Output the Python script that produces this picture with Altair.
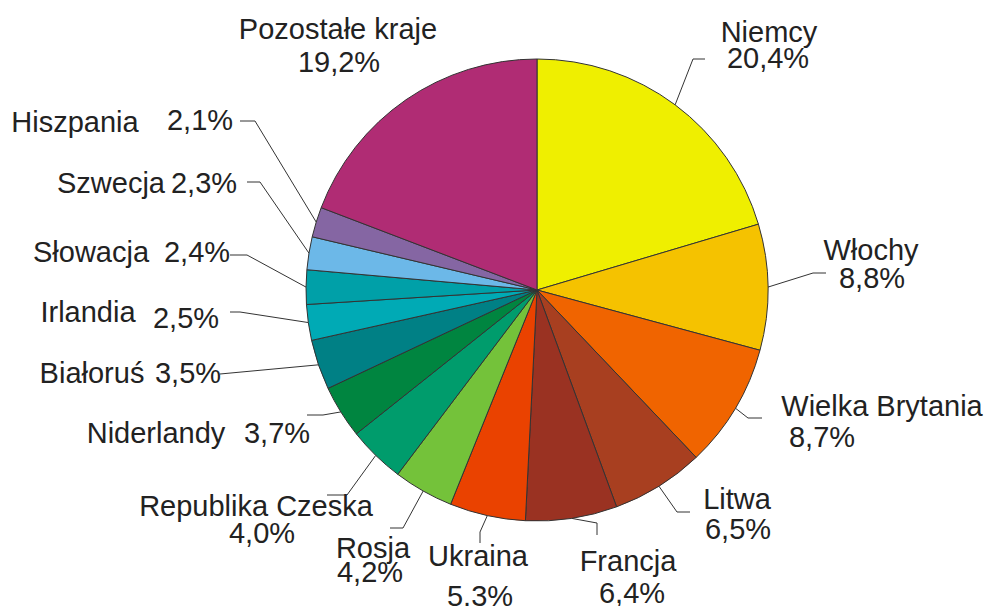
import math
import altair as alt
import pandas as pd

# ---- data ----
countries = ["Niemcy", "Włochy", "Wielka Brytania", "Litwa", "Francja", "Ukraina",
             "Rosja", "Republika Czeska", "Niderlandy", "Białoruś", "Irlandia",
             "Słowacja", "Szwecja", "Hiszpania", "Pozostałe kraje"]
values = [20.4, 8.8, 8.7, 6.5, 6.4, 5.3, 4.2, 4.0, 3.7, 3.5, 2.5, 2.4, 2.3, 2.1, 19.2]
value_labels = ["20,4%", "8,8%", "8,7%", "6,5%", "6,4%", "5.3%", "4,2%", "4,0%",
                "3,7%", "3,5%", "2,5%", "2,4%", "2,3%", "2,1%", "19,2%"]
colors = ["#EFEF00", "#F5C200", "#F06400", "#A83F20", "#9A3222", "#EA4200",
          "#74C23A", "#009C6C", "#008540", "#008085", "#00AAB5", "#00A0A8",
          "#6CB8E8", "#8566A3", "#B02C74"]

# ---- layout (pixels) ----
W, H = 992, 606
CX, CY, R = 537, 290, 231
FONT = "Liberation Sans"
FS = 29

# name position, value position, leader elbow, leader end (None = no leader)
layout = {
    "Niemcy":           ((769, 33), (768, 59), (693, 59), (705, 59)),
    "Włochy":           ((871, 251), (872, 279), (813, 273), (826, 273)),
    "Wielka Brytania":  ((882, 407), (822, 438), (748, 418), (762, 418)),
    "Litwa":            ((737, 500), (738, 530), (677, 512), (690, 512)),
    "Francja":          ((628, 562), (632, 594), (597, 523), (597, 535)),
    "Ukraina":          ((478, 557), (480, 597), (480, 532), (480, 543)),
    "Rosja":            ((373, 549), (370, 573), (403, 528), (390, 528)),
    "Republika Czeska": ((256, 507), (262, 534), (347, 495), (327, 495)),
    "Niderlandy":       ((156, 434), (277, 434), (323, 415), (307, 415)),
    "Białoruś":         ((92, 374), (188, 374), (220, 374), (220, 374)),
    "Irlandia":         ((88, 313), (186, 319), (240, 312), (230, 312)),
    "Słowacja":         ((91, 253), (197, 253), (247, 255), (230, 255)),
    "Szwecja":          ((111, 184), (204, 184), (260, 182), (247, 182)),
    "Hiszpania":        ((75, 123), (200, 121), (255, 121), (240, 121)),
    "Pozostałe kraje":  ((338, 30), (339, 63), None, None),
}

pie_df = pd.DataFrame({"idx": range(len(countries)), "country": countries, "value": values})

total = sum(values)
rows_lines, rows_text = [], []
cum = 0.0
for c, v, lab in zip(countries, values, value_labels):
    mid = (cum + v / 2) / total * 2 * math.pi
    cum += v
    name_xy, val_xy, elbow, end = layout[c]
    rows_text.append({"x": name_xy[0], "y": name_xy[1], "t": c})
    rows_text.append({"x": val_xy[0], "y": val_xy[1], "t": lab})
    if elbow is not None:
        sx = CX + R * math.sin(mid)
        sy = CY - R * math.cos(mid)
        for k, (px, py) in enumerate([(sx, sy), elbow, end]):
            rows_lines.append({"country": c, "pt": k, "x": px, "y": py})

lines_df = pd.DataFrame(rows_lines)
text_df = pd.DataFrame(rows_text)

xs = alt.Scale(domain=[0, W], range=[0, W], nice=False, zero=False)
ys = alt.Scale(domain=[0, H], range=[0, H], nice=False, zero=False)

pie = alt.Chart(pie_df).mark_arc(outerRadius=R, stroke="#333333", strokeWidth=1).encode(
    theta=alt.Theta("value:Q", stack=True),
    order=alt.Order("idx:Q"),
    color=alt.Color("country:N", scale=alt.Scale(domain=countries, range=colors), legend=None),
    x=alt.value(CX),
    y=alt.value(CY),
)

leaders = alt.Chart(lines_df).mark_line(color="#333333", strokeWidth=1).encode(
    x=alt.X("x:Q", scale=xs, axis=None),
    y=alt.Y("y:Q", scale=ys, axis=None),
    detail="country:N",
    order="pt:Q",
)

texts = alt.Chart(text_df).mark_text(
    font=FONT, fontSize=FS, color="#222222", align="center", baseline="middle"
).encode(
    x=alt.X("x:Q", scale=xs, axis=None),
    y=alt.Y("y:Q", scale=ys, axis=None),
    text="t:N",
)

chart = alt.layer(pie, leaders, texts).properties(
    width=W, height=H, autosize=alt.AutoSizeParams(type="none"), padding=0,
    background="white",
).configure_view(stroke=None)

chart.save("out.html", embed_options={"renderer": "svg", "actions": False})
